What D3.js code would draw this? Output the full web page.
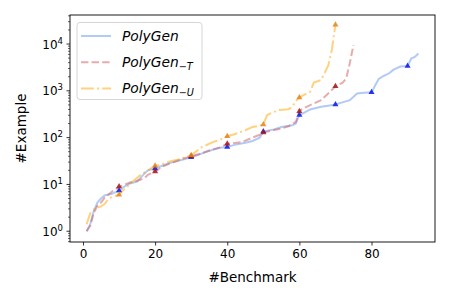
<!DOCTYPE html>
<html>
<head>
<meta charset="utf-8">
<script src="https://cdn.jsdelivr.net/npm/d3@7"></script>
<style>
  body { margin: 0; background: #fff; }
  text { font-family: "DejaVu Sans", sans-serif; }
</style>
</head>
<body>
<script>

// values (benchmark index -> number of examples)
var polygenX = [1, 2, 3, 4, 5, 6, 7, 8, 10, 11, 13, 15, 17, 18, 20, 22, 24, 27, 30, 32, 34, 36, 38, 40, 42, 45, 47, 49, 50, 53, 55, 58, 59, 60, 61, 63, 66, 68, 70, 71, 74, 76, 78, 80, 81, 82, 83, 85, 86, 88, 90, 91, 92, 93]
var polygenY = [1, 1.4, 2.7, 4.1, 5, 5.8, 6.1, 6.3, 7.4, 8.5, 10.5, 11.5, 17, 20, 22, 25, 28.5, 33, 38, 43, 49, 55, 61, 63, 70, 78, 85, 100, 135, 150, 169, 183, 200, 306, 330, 400, 455, 480, 510, 540, 630, 880, 910, 927, 1300, 1800, 2000, 2400, 2800, 3300, 3400, 4900, 5300, 6300]

var noTX = [1, 2, 3, 4, 5, 6, 7, 8, 10, 11, 13, 15, 17, 18, 20, 22, 24, 27, 30, 32, 35, 38, 40, 42, 44, 47, 49, 50, 52, 55, 57, 59, 60, 61, 63, 66, 68, 70, 72, 73, 74, 75]
var noTY = [1, 1.3, 2.5, 3.5, 4.1, 5.2, 6, 7, 9, 9.5, 11, 12, 13.5, 16, 19, 24, 28, 34, 40, 44, 53, 62, 74, 77, 80, 100, 115, 128, 140, 156, 175, 216, 367, 420, 495, 630, 880, 1245, 1500, 1850, 4000, 9500]

var noUX = [1, 2, 3, 4, 5, 6, 7, 8, 10, 11, 12, 14, 16, 18, 20, 22, 24, 27, 30, 32, 33, 36, 38, 40, 42, 45, 47, 49, 50, 51, 52, 54, 57, 58, 59, 60, 61, 63, 64, 66, 67, 68, 69, 70]
var noUY = [1.4, 2.4, 2.9, 3.2, 3.4, 3.8, 4.8, 5.4, 6, 7.4, 8.5, 12, 16, 20, 25, 27, 31, 35, 42, 55, 63, 80, 90, 107, 118, 144, 169, 180, 190, 300, 330, 385, 405, 450, 600, 724, 800, 955, 1500, 1700, 2400, 3500, 7500, 25900]

var markPolygen = [10, 20, 30, 40, 50, 60, 70, 80, 90]
var markNoT = [10, 20, 30, 40, 50, 60, 70]
var markNoU = [10, 20, 30, 40, 50, 60, 70]

var xTicks = [0, 20, 40, 60, 80]
var yDecades = [0, 1, 2, 3, 4]

var series = [
  {name: "PolyGen", sub: "", xs: polygenX, ys: polygenY, marks: markPolygen,
   color: "#6495ed", dash: null, mark: "#0a14e6"},
  {name: "PolyGen", sub: "\u2212T", xs: noTX, ys: noTY, marks: markNoT,
   color: "#cd5c5c", dash: "7.4,3.2", mark: "#a3161a"},
  {name: "PolyGen", sub: "\u2212U", xs: noUX, ys: noUY, marks: markNoU,
   color: "#ffa500", dash: "12.8,3.2,2,3.2", mark: "#e0861c"}
]

var W = 450, H = 300
var L = 70, R = 435, T = 15, B = 242

var svg = d3.select("body").append("svg")
    .attr("width", W)
    .attr("height", H)

var x = d3.scaleLinear().domain([-3.6, 97.6]).range([L, R])
var y = d3.scaleLog().domain([Math.pow(10, -0.23), Math.pow(10, 4.62)]).range([B, T])

// lines
var line = d3.line()
    .x(function(d) { return x(d[0]) })
    .y(function(d) { return y(d[1]) })

series.forEach(function(s) {
  var pts = s.xs.map(function(v, i) { return [v, s.ys[i]] })
  svg.append("path")
      .datum(pts)
      .attr("d", line)
      .attr("fill", "none")
      .attr("stroke", s.color)
      .attr("stroke-opacity", 0.5)
      .attr("stroke-width", 2)
      .attr("stroke-dasharray", s.dash)
})

// triangle markers every 10 benchmarks
var tri = d3.symbol().type(d3.symbolTriangle).size(16)
series.forEach(function(s) {
  var pts = s.marks.map(function(m) { return [m, s.ys[s.xs.indexOf(m)]] })
  svg.selectAll(null)
      .data(pts)
      .enter().append("path")
      .attr("d", tri)
      .attr("transform", function(d) { return "translate(" + x(d[0]) + "," + y(d[1]) + ")" })
      .attr("fill", s.mark)
      .attr("fill-opacity", 0.85)
})

// frame
svg.append("rect")
    .attr("x", L).attr("y", T)
    .attr("width", R - L).attr("height", B - T)
    .attr("fill", "none")
    .attr("stroke", "#000")
    .attr("stroke-width", 0.9)

// x axis
var xAxis = svg.append("g")
    .attr("transform", "translate(0," + B + ")")
    .call(d3.axisBottom(x).tickValues(xTicks).tickSize(3.5).tickPadding(3.5).tickFormat(d3.format("d")))
xAxis.select(".domain").remove()
xAxis.selectAll("text").attr("font-size", 12).attr("fill", "#000").attr("font-family", "DejaVu Sans")
xAxis.selectAll("line").attr("stroke", "#000").attr("stroke-width", 0.8)

// y axis (log) - major ticks with superscripts, minor ticks between
var minors = []
for (var e = -1; e <= 4; e++) {
  for (var k = 2; k <= 9; k++) {
    var v = k * Math.pow(10, e)
    if (v >= y.domain()[0] && v <= y.domain()[1]) minors.push(v)
  }
}
svg.selectAll(".minor")
    .data(minors)
    .enter().append("line")
    .attr("class", "minor")
    .attr("x1", L - 2).attr("x2", L)
    .attr("y1", function(d) { return y(d) })
    .attr("y2", function(d) { return y(d) })
    .attr("stroke", "#000").attr("stroke-width", 0.6)

svg.selectAll(".major")
    .data(yDecades)
    .enter().append("line")
    .attr("class", "major")
    .attr("x1", L - 3.5).attr("x2", L)
    .attr("y1", function(d) { return y(Math.pow(10, d)) })
    .attr("y2", function(d) { return y(Math.pow(10, d)) })
    .attr("stroke", "#000").attr("stroke-width", 0.8)

var yl = svg.selectAll(".ylab")
    .data(yDecades)
    .enter().append("text")
    .attr("class", "ylab")
    .attr("x", L - 7)
    .attr("y", function(d) { return y(Math.pow(10, d)) + 4.5 })
    .attr("text-anchor", "end")
    .attr("font-size", 12)
yl.append("tspan").text("10")
yl.append("tspan").attr("dy", -5).attr("font-size", 8.5).text(function(d) { return d })

// axis titles
svg.append("text")
    .attr("x", (L + R) / 2).attr("y", 282)
    .attr("text-anchor", "middle")
    .attr("font-size", 13.5)
    .text("#Benchmark")

svg.append("text")
    .attr("transform", "translate(26," + ((T + B) / 2) + ") rotate(-90)")
    .attr("text-anchor", "middle")
    .attr("font-size", 13.5)
    .text("#Example")

// legend
var lg = svg.append("g")
lg.append("rect")
    .attr("x", 77).attr("y", 22.5)
    .attr("width", 125).attr("height", 77)
    .attr("rx", 3)
    .attr("fill", "#fff").attr("fill-opacity", 0.8)
    .attr("stroke", "#d0d0d0").attr("stroke-width", 0.9)

series.forEach(function(s, i) {
  var yy = 36 + i * 26.2
  lg.append("line")
      .attr("x1", 81).attr("x2", 111)
      .attr("y1", yy).attr("y2", yy)
      .attr("stroke", s.color)
      .attr("stroke-opacity", 0.5)
      .attr("stroke-width", 2)
      .attr("stroke-dasharray", s.dash)
  var t = lg.append("text")
      .attr("x", 122).attr("y", yy + 5)
      .attr("font-size", 13.8)
      .attr("font-style", "italic")
  t.append("tspan").text(s.name)
  if (s.sub) {
    t.append("tspan").attr("dy", 3).attr("font-size", 9.7).text(s.sub)
  }
})

</script>
</body>
</html>
